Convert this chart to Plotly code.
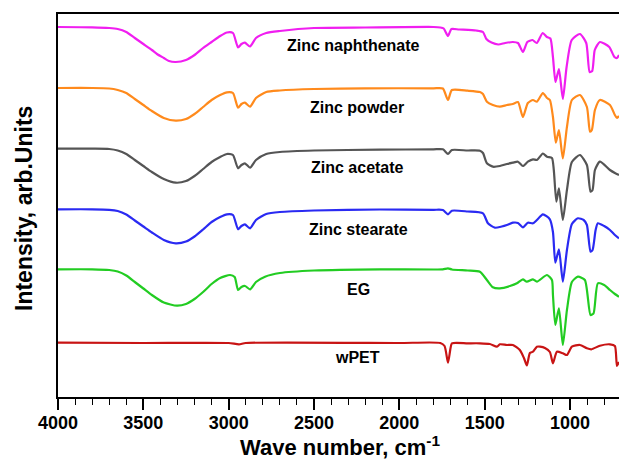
import plotly.graph_objects as go

# ---------------- data ----------------
wn_naph = [4000, 3800, 3700, 3650, 3600, 3550, 3500, 3450, 3420, 3380, 3350, 3310, 3250, 3200, 3150, 3100, 3050, 3010,
           2975, 2945, 2925, 2905, 2875, 2840, 2780, 2700, 2500, 2200, 1800, 1760, 1740, 1715, 1695, 1650, 1550, 1510,
           1490, 1460, 1420, 1380, 1335, 1305, 1276, 1250, 1220, 1195, 1160, 1135, 1115, 1100, 1085, 1065, 1042, 1020,
           990, 942, 905, 885, 870, 855, 825, 770, 740, 725, 713]
int_naph = [370, 369.7, 369, 368, 365, 359, 353, 347, 343, 339, 336, 335, 337, 342, 349, 355, 361, 364.5,
            364, 349.5, 353, 354.3, 350.5, 359, 364, 366, 369, 369.5, 370, 369.5, 368.5, 361, 368, 367.5, 366.5, 365,
            358, 354.5, 352.5, 354, 355, 354, 345, 355, 357, 354, 364, 360, 358.5, 340, 315, 328, 298, 330,
            357, 363, 354, 325, 326, 347, 355, 350, 340, 339, 342]

wn_powder = [4000, 3800, 3700, 3650, 3600, 3550, 3500, 3450, 3380, 3310, 3250, 3200, 3150, 3100, 3050, 3010,
             2975, 2945, 2925, 2905, 2875, 2840, 2780, 2700, 2500, 2200, 1800, 1745, 1715, 1692, 1600, 1528, 1510,
             1487, 1452, 1411, 1370, 1335, 1305, 1276, 1247, 1217, 1194, 1159, 1135, 1118, 1100, 1083, 1065, 1042,
             1018, 989, 942, 901, 883, 872, 854, 825, 766, 737, 725, 713]
int_powder = [309, 309, 308.5, 307, 304, 298, 292, 286, 279, 276.3, 278, 283, 290, 297, 302, 304.7,
              304, 289.3, 293, 294.3, 290.3, 299, 305, 306.5, 308, 308.7, 308.7, 308.5, 297, 307, 306.3, 305, 303,
              295.3, 292, 290.3, 292, 293, 295, 280, 294, 297, 295.3, 304, 299, 297, 280, 254.3, 267, 238.5,
              270, 297, 302, 290, 265.3, 267, 287, 297, 292, 282, 279, 281]

wn_acetate = [4000, 3800, 3700, 3650, 3600, 3550, 3500, 3450, 3380, 3310, 3250, 3200, 3150, 3100, 3050, 3010,
              2975, 2945, 2925, 2905, 2875, 2840, 2780, 2700, 2500, 2114, 1800, 1745, 1715, 1692, 1600, 1528, 1510,
              1487, 1452, 1411, 1370, 1335, 1305, 1276, 1247, 1217, 1194, 1159, 1135, 1106, 1095, 1080, 1065, 1042,
              1018, 989, 942, 901, 880, 868, 854, 825, 766, 737, 713]
int_acetate = [248.3, 248.3, 248, 246.5, 243, 237, 231, 225, 218, 214.3, 216, 221, 228, 235, 240, 243,
               242, 228.7, 232, 233.7, 229.3, 237, 243, 245, 246.5, 247.3, 247.7, 247.7, 243, 247, 246.5, 246.3, 244,
               233.7, 230.3, 231, 233, 234.3, 235.3, 231, 235.3, 237.7, 237, 243.5, 240.3, 239, 227, 195.3, 208.7, 177,
               207, 235, 242, 232, 205.3, 207, 227, 235.3, 227, 224, 222]

wn_stearate = [4000, 3800, 3700, 3650, 3600, 3550, 3500, 3450, 3380, 3310, 3250, 3200, 3150, 3100, 3050, 3010,
               2975, 2945, 2925, 2905, 2875, 2840, 2780, 2700, 2500, 2114, 1800, 1745, 1715, 1692, 1600, 1510, 1481,
               1440, 1400, 1370, 1335, 1305, 1276, 1247, 1217, 1194, 1159, 1118, 1100, 1086, 1065, 1042,
               1018, 989, 954, 920, 901, 880, 868, 850, 837, 800, 766, 737, 713]
int_stearate = [187.7, 187.7, 187.2, 186, 182.5, 176.5, 170.5, 164.5, 157, 153.7, 155.5, 160.5, 167.5, 175, 180, 182.7,
                182, 167.7, 171, 172.7, 168.7, 177, 183, 185, 186.5, 187.5, 187.2, 187, 182.7, 186.3, 185.5, 183.7, 173.7,
                169.3, 170.5, 172, 174.3, 174, 169.7, 174.3, 173.7, 177, 182.7, 177.7, 165, 134.3, 147.7, 115.3,
                147, 173, 178.7, 177, 172, 145.3, 147, 167, 173.7, 171, 167, 162, 158.7]

wn_eg = [4000, 3800, 3700, 3650, 3600, 3550, 3500, 3450, 3380, 3303, 3250, 3200, 3150, 3100, 3050, 2992,
         2965, 2945, 2925, 2904, 2875, 2840, 2787, 2700, 2500, 2114, 1800, 1745, 1715, 1692, 1600, 1528, 1487,
         1452, 1411, 1352, 1311, 1276, 1253, 1217, 1194, 1135, 1106, 1100, 1086, 1065, 1042, 1018, 989, 954, 913,
         880, 862, 837, 800, 766, 737, 713]
int_eg = [127.7, 127.7, 127, 125.5, 121.5, 115, 108.5, 102, 94.5, 91.3, 93, 98, 105, 113, 119, 122,
          120, 107, 110, 111, 107.7, 115, 120.3, 124, 126.5, 127.7, 127.5, 127.7, 128.7, 127.5, 126.5, 125.3, 117,
          109.7, 108.7, 111, 113.7, 117.7, 115.3, 117.7, 115.3, 122, 117, 102, 72, 88.7, 52, 87, 115, 120.3, 117,
          82, 83.7, 113.7, 112, 107, 103, 100.3]

wn_wpet = [4000, 3500, 3000, 2940, 2900, 2000, 1760, 1735, 1715, 1700, 1692, 1600, 1528, 1470, 1428, 1411, 1370,
           1335, 1294, 1270, 1253, 1235, 1217, 1194, 1176, 1147, 1118, 1100, 1077, 1042, 1018, 989, 942, 901, 875,
           825, 766, 737, 725, 713]
int_wpet = [54.3, 54, 54, 52.7, 54, 54, 54, 51, 34.3, 49, 53.7, 53.7, 53.7, 53, 50.3, 52.7, 52,
            52, 47, 39, 31.5, 44, 45.3, 50.3, 50.3, 49, 45, 33.7, 45.3, 43.7, 42, 50.3, 52, 48.7, 47.7,
            51.3, 52.7, 51, 31, 35]

series_names = ["Zinc naphthenate", "Zinc powder", "Zinc acetate", "Zinc stearate", "EG", "wPET"]
series_wn = [wn_naph, wn_powder, wn_acetate, wn_stearate, wn_eg, wn_wpet]
series_int = [int_naph, int_powder, int_acetate, int_stearate, int_eg, int_wpet]

# label positions (wavenumber, intensity)
label_wn = [2269, 2248, 2248, 2240, 2237, 2248]
label_int = [351.5, 290, 230, 168, 108, 40]

x_ticks = [4000, 3500, 3000, 2500, 2000, 1500, 1000]

# ---------------- styling ----------------
colors = ["#F01EF0", "#FF8A1C", "#555555", "#2A2AF2", "#22CC22", "#C81414"]
FONT = "Arial, Liberation Sans, sans-serif"

fig = go.Figure()
for name, xs, ys, c in zip(series_names, series_wn, series_int, colors):
    fig.add_trace(go.Scatter(x=xs, y=ys, mode="lines", name=name,
                             line=dict(color=c, width=2.2, shape="spline", smoothing=0.6)))

for name, lx, ly in zip(series_names, label_wn, label_int):
    fig.add_annotation(x=lx, y=ly, text="<b>%s</b>" % name, showarrow=False,
                       xanchor="center", yanchor="middle",
                       font=dict(family=FONT, size=16, color="black"))

W, H = 619, 459
ml, mr, mt, mb = 58, 0, 14, 62
pw, ph = W - ml - mr, H - mt - mb

fig.add_annotation(xref="paper", yref="paper", x=(340 - ml) / pw, y=(397 - 446) / ph,
                   text="<b>Wave number, cm<sup>-1</sup></b>", showarrow=False,
                   xanchor="center", yanchor="middle",
                   font=dict(family=FONT, size=22, color="black"))
fig.add_annotation(xref="paper", yref="paper", x=(24 - ml) / pw, y=(397 - 209) / ph,
                   text="<b>Intensity, arb.Units</b>", showarrow=False, textangle=-90,
                   xanchor="center", yanchor="middle",
                   font=dict(family=FONT, size=23, color="black"))

fig.update_layout(
    width=W, height=H, margin=dict(l=ml, r=mr, t=mt, b=mb),
    paper_bgcolor="white", plot_bgcolor="white", showlegend=False,
    xaxis=dict(range=[4000, 713], tickvals=x_ticks, ticktext=["<b>%d</b>" % v for v in x_ticks],
               ticks="outside", ticklen=11, tickwidth=2, tickcolor="black",
               ticklabelstandoff=-3,
               minor=dict(dtick=100, tick0=0, ticks="outside", ticklen=6, tickwidth=1.3, tickcolor="black"),
               showline=True, linecolor="black", linewidth=2, mirror=True,
               showgrid=False, zeroline=False,
               tickfont=dict(family=FONT, size=18, color="black")),
    yaxis=dict(range=[0, 383], showticklabels=False, ticks="", showline=True,
               linecolor="black", linewidth=2, showgrid=False, zeroline=False),
)

fig.write_html("out.html")
